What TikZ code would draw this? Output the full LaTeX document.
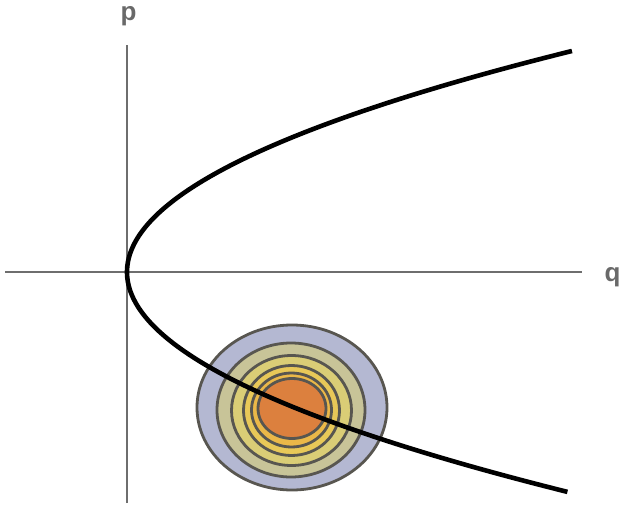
\documentclass[tikz,border=0pt]{standalone}
\usepackage{fontspec}
\setmainfont{Liberation Sans}
\usepackage{xcolor}
\usepackage{tikz}
\usetikzlibrary{positioning}

\definecolor{axisgray}{RGB}{110,110,110}
\definecolor{labelgray}{RGB}{105,105,105}
\definecolor{ringedge}{RGB}{88,86,80}
\definecolor{ringA}{RGB}{180,184,210}
\definecolor{ringB}{RGB}{200,196,152}
\definecolor{ringC}{RGB}{218,205,118}
\definecolor{ringD}{RGB}{232,200,88}
\definecolor{ringE}{RGB}{235,184,72}
\definecolor{ringF}{RGB}{220,128,62}

\begin{document}
\begin{tikzpicture}[
  x=1pt, y=-1pt,
  axis/.style={draw=axisgray, line width=1.3pt},
  axislabel/.style={font=\fontsize{26}{26}\selectfont\bfseries, text=labelgray, inner sep=0pt},
  ring/.style={draw=ringedge, line width=2.8pt},
  orbit/.style={draw=black, line width=4.6pt},
]
\useasboundingbox (0,0) rectangle (621,508);

%% ── Axes ────────────────────────────────────────────────────────────────
\coordinate (origin) at (127,272);
\coordinate (ptop) at (127,45);
\coordinate (pbot) at (127,503);
\coordinate (qleft) at (5,272);
\coordinate (qright) at (582,272);
\draw[axis] (pbot) -- (ptop);
\draw[axis] (qleft) -- (qright);

\node[axislabel, anchor=base] (plabel) at (128.5,20.5) {p};
\node[axislabel, anchor=base] (qlabel) at (612.5,281) {q};

%% ── Contours ────────────────────────────────────────────────────────────
\filldraw[ring, fill=ringA] (292,407.5) ellipse [x radius=95, y radius=82.5];
\filldraw[ring, fill=ringB] (291,410) ellipse [x radius=74, y radius=67];
\filldraw[ring, fill=ringC] (291.5,410.5) ellipse [x radius=60, y radius=55];
\filldraw[ring, fill=ringD] (291.5,410.5) ellipse [x radius=48, y radius=45];
\filldraw[ring, fill=ringE] (291.5,410) ellipse [x radius=40, y radius=37];
\filldraw[ring, fill=ringF] (292,408.5) ellipse [x radius=34, y radius=30];

%% ── Parabola ────────────────────────────────────────────────────────────
\draw[orbit] plot[domain=-2.21:2.20, samples=120, smooth]
  ({127+91.1*\x*\x}, {272+100*\x});

\end{tikzpicture}
\end{document}
